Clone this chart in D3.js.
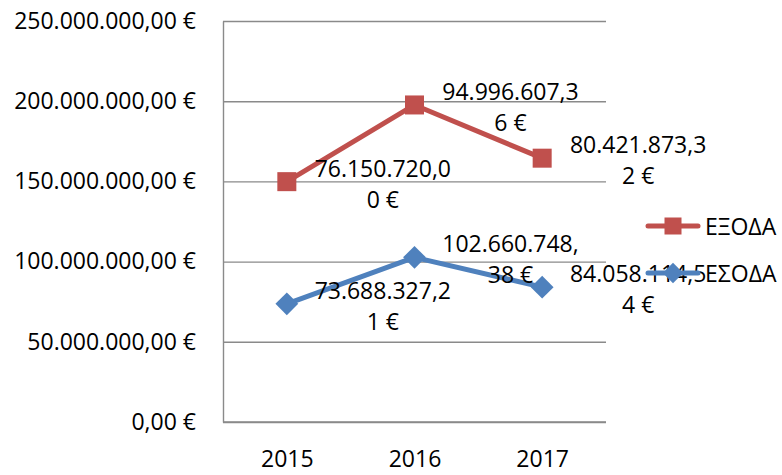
<!DOCTYPE html>
<html>
<head>
<meta charset="utf-8">
<script src="https://cdn.jsdelivr.net/npm/d3@7"></script>
<style>
  html, body { margin: 0; padding: 0; background: #fff; }
  svg { display: block; }
  text { font-family: "Open Sans", "Liberation Sans", sans-serif; fill: #000; }
</style>
</head>
<body>
<svg id="chart" width="782" height="475"></svg>
<script>
// ---- data ----
const years = ["2015", "2016", "2017"];
const seriesNames = ["ΕΞΟΔΑ", "ΕΣΟΔΑ"];
const esoda = [73688327.21, 102660748.38, 84058114.54];   // ΕΣΟΔΑ (blue, bottom)
const exoda = [76150720.00, 94996607.36, 80421873.32];    // ΕΞΟΔΑ (red, stacked on top)
const yTicks = [0, 50000000, 100000000, 150000000, 200000000, 250000000];
const colors = { "ΕΞΟΔΑ": "#C0504D", "ΕΣΟΔΑ": "#4F81BD" };

// ---- layout ----
const W = 782, H = 475;
const plot = { left: 223, right: 606, top: 21, bottom: 422 };
const FS = 23;

const svg = d3.select("#chart");

const locale = d3.formatLocale({ decimal: ",", thousands: ".", grouping: [3], currency: ["", " €"] });
const fmt = locale.format("$,.2f");

const x = d3.scalePoint().domain(years).range([plot.left, plot.right]).padding(0.5);
const y = d3.scaleLinear().domain([0, 250000000]).range([plot.bottom, plot.top]);

// gridlines
const grid = svg.append("g").attr("transform", `translate(${plot.left},0)`)
  .call(d3.axisRight(y).tickValues(yTicks).tickSize(plot.right - plot.left).tickFormat(""));
grid.select(".domain").remove();
grid.selectAll(".tick line").attr("stroke", "#8a8a8a").attr("stroke-width", 1.4);

// y axis
const yAxis = svg.append("g").attr("transform", `translate(${plot.left},0)`)
  .call(d3.axisLeft(y).tickValues(yTicks).tickSize(0).tickPadding(27).tickFormat(fmt));
yAxis.select(".domain").attr("stroke", "#8a8a8a").attr("stroke-width", 1.4);
yAxis.selectAll(".tick text").attr("font-size", FS).attr("font-family", null).attr("fill", "#000");

// x axis
const xAxis = svg.append("g").attr("transform", `translate(0,${plot.bottom})`)
  .call(d3.axisBottom(x).tickSize(0).tickPadding(29));
xAxis.select(".domain").attr("d", `M${plot.left},0H${plot.right}`).attr("stroke", "#8a8a8a").attr("stroke-width", 1.4);
xAxis.selectAll(".tick text").attr("font-size", FS).attr("font-family", null).attr("fill", "#000");

// series (stacked line)
const stackedTop = exoda.map((v, i) => v + esoda[i]);
const series = [
  { name: "ΕΣΟΔΑ", plotted: esoda, raw: esoda, marker: "diamond" },
  { name: "ΕΞΟΔΑ", plotted: stackedTop, raw: exoda, marker: "square" }
];

const line = d3.line().x((d, i) => x(years[i])).y(d => y(d));

function marker(g, type, cx, cy, color, s) {
  if (type === "square") {
    g.append("rect").attr("x", cx - s / 2).attr("y", cy - s / 2).attr("width", s).attr("height", s).attr("fill", color);
  } else {
    const r = s * 0.6;
    g.append("path").attr("d", `M${cx},${cy - r}L${cx + r},${cy}L${cx},${cy + r}L${cx - r},${cy}Z`).attr("fill", color);
  }
}

series.forEach(s => {
  const g = svg.append("g");
  g.append("path").datum(s.plotted).attr("d", line).attr("fill", "none")
    .attr("stroke", colors[s.name]).attr("stroke-width", 5).attr("stroke-linejoin", "round");
  s.plotted.forEach((v, i) => marker(g, s.marker, x(years[i]), y(v), colors[s.name], 19));
});

// data labels (wrapped after 12 characters, as in the original)
const labels = svg.append("g");
series.forEach(s => {
  s.plotted.forEach((v, i) => {
    const str = fmt(s.raw[i]);
    const lines = [str.slice(0, 12), str.slice(12)];
    const cx = x(years[i]) + 96, cy = y(v);
    lines.forEach((t, k) => {
      labels.append("text").attr("x", cx).attr("y", cy + (k === 0 ? -14 : 17))
        .attr("text-anchor", "middle").attr("dominant-baseline", "central")
        .attr("font-size", FS).text(t);
    });
  });
});

// legend
const legend = svg.append("g");
const legendItems = [
  { name: "ΕΞΟΔΑ", marker: "square", y: 226 },
  { name: "ΕΣΟΔΑ", marker: "diamond", y: 273 }
];
legendItems.forEach(it => {
  legend.append("line").attr("x1", 648).attr("x2", 698).attr("y1", it.y).attr("y2", it.y)
    .attr("stroke", colors[it.name]).attr("stroke-width", 5).attr("stroke-linecap", "round");
  marker(legend, it.marker, 673, it.y, colors[it.name], 17);
  legend.append("text").attr("x", 705).attr("y", it.y).attr("dominant-baseline", "central")
    .attr("font-size", FS).text(it.name);
});
</script>
</body>
</html>
